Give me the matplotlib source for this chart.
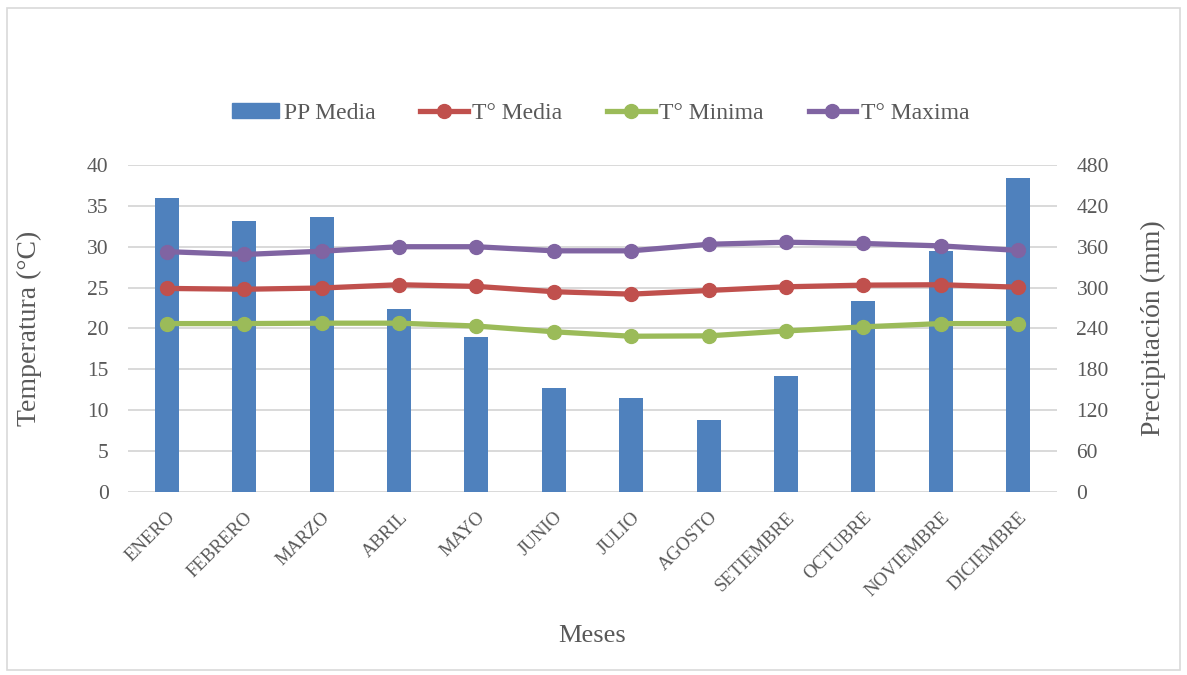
import matplotlib
matplotlib.use("Agg")
import matplotlib.pyplot as plt
from matplotlib.patches import Rectangle
from matplotlib.lines import Line2D
import numpy as np

months = ["ENERO", "FEBRERO", "MARZO", "ABRIL", "MAYO", "JUNIO", "JULIO",
          "AGOSTO", "SETIEMBRE", "OCTUBRE", "NOVIEMBRE", "DICIEMBRE"]
pp_media = [431, 398, 403, 269, 227, 153, 138, 106, 171, 281, 354, 461]
t_media = [24.9, 24.8, 24.95, 25.35, 25.15, 24.5, 24.2, 24.65, 25.1, 25.3, 25.35, 25.05]
t_minima = [20.6, 20.6, 20.65, 20.65, 20.3, 19.6, 19.05, 19.1, 19.7, 20.2, 20.6, 20.6]
t_maxima = [29.4, 29.05, 29.45, 30.0, 30.0, 29.5, 29.5, 30.3, 30.55, 30.4, 30.1, 29.55]
temp_ticks = [0, 5, 10, 15, 20, 25, 30, 35, 40]
pp_ticks = [0, 60, 120, 180, 240, 300, 360, 420, 480]

plt.rcParams['font.family'] = ['Liberation Serif', 'DejaVu Serif']
TXT = '#595959'
GRID = '#D9D9D9'

fig = plt.figure(figsize=(11.87, 6.75), dpi=100)
ax = fig.add_axes([0.1078, 0.2711, 0.7827, 0.4845])
ax2 = ax.twinx()

x = np.arange(len(months))
ax2.bar(x, pp_media, width=0.31, color='#4F81BD', zorder=2)
ax2.set_ylim(0, 480)
ax2.set_yticks(pp_ticks)
ax2.grid(axis='y', color=GRID, linewidth=1.4, zorder=0)
ax2.set_axisbelow(True)

ax.set_zorder(ax2.get_zorder() + 1)
ax.patch.set_visible(False)
lw, ms = 3.8, 10
ax.plot(x, t_media, color='#C0504D', lw=lw, marker='o', ms=ms)
ax.plot(x, t_minima, color='#9BBB59', lw=lw, marker='o', ms=ms)
ax.plot(x, t_maxima, color='#8064A2', lw=lw, marker='o', ms=ms)
ax.set_ylim(0, 40)
ax.set_yticks(temp_ticks)
ax.set_xlim(-0.5, 11.5)
ax.set_xticks(x)
ax.set_xticklabels(months, rotation=45, ha='right', rotation_mode='anchor')

for a in (ax, ax2):
    for s in a.spines.values():
        s.set_visible(False)
    a.tick_params(length=0, colors=TXT, labelsize=15.5)
ax.tick_params(axis='x', labelsize=13.5, pad=12)
ax.tick_params(axis='y', pad=14)
ax2.tick_params(axis='y', pad=14)

ax.set_ylabel("Temperatura (°C)", fontsize=20, color=TXT, labelpad=32)
ax2.set_ylabel("Precipitación (mm)", fontsize=20, color=TXT, labelpad=23)
ax.set_xlabel("Meses", fontsize=19, color=TXT, labelpad=18)

handles = [
    Rectangle((0, 0), 1, 1, color='#4F81BD'),
    Line2D([], [], color='#C0504D', lw=lw, marker='o', ms=ms),
    Line2D([], [], color='#9BBB59', lw=lw, marker='o', ms=ms),
    Line2D([], [], color='#8064A2', lw=lw, marker='o', ms=ms),
]
labels = ["PP Media", "T° Media", "T° Minima", "T° Maxima"]
fig.legend(handles, labels, loc='center', bbox_to_anchor=(0.506, 0.832), ncol=4,
           frameon=False, fontsize=17, labelcolor=TXT, handlelength=2.0,
           handleheight=0.6, handletextpad=0.2, columnspacing=1.9)

fig.patches.append(Rectangle((0.006, 0.008), 0.988, 0.98, transform=fig.transFigure,
                             fill=False, edgecolor=GRID, linewidth=1.2))

fig.savefig("out.png", dpi=100)
